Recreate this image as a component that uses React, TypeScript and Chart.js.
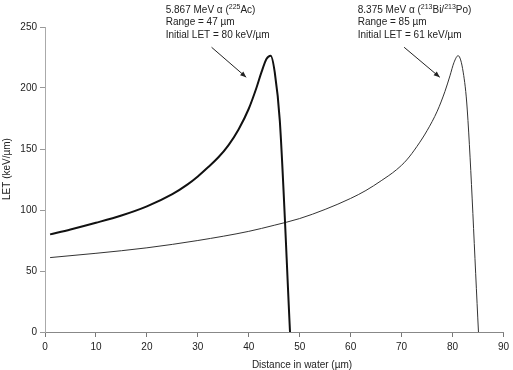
import { useEffect, useRef } from "react";
import { Chart, registerables } from "chart.js";

Chart.register(...registerables);

// ---- data ----
const acDistance = [1, 5, 10, 15, 20, 25, 28, 30, 32, 34, 36, 38, 40, 41.5, 42.5, 43.5, 44.3, 45.1, 46.1, 48.1];
const acLET = [80, 84, 89.5, 95.5, 103, 113, 121, 127.5, 135, 143, 153, 166, 183, 200, 213, 224, 226.5, 213, 173, 0];

const biDistance = [1, 10, 20, 30, 40, 45, 50, 55, 60, 63, 66, 69, 71, 73, 75, 77, 78.5, 79.5, 80.3, 81.1, 82.1, 82.9, 85.1];
const biLET = [61, 64.5, 69, 75, 82.5, 87.5, 93, 100.5, 109.5, 116, 124, 133, 141, 152, 165, 181, 197, 210, 221, 226.5, 213, 182, 0];

const xTickValues = [0, 10, 20, 30, 40, 50, 60, 70, 80, 90];
const yTickValues = [0, 50, 100, 150, 200, 250];

const xTitle = "Distance in water (µm)";
const yTitle = "LET (keV/µm)";

// notes: '^' toggles superscript
const acNote = ["5.867 MeV α (^225^Ac)", "Range = 47 µm", "Initial LET = 80 keV/µm"];
const biNote = ["8.375 MeV α (^213^Bi/^213^Po)", "Range = 85 µm", "Initial LET = 61 keV/µm"];
// note anchor (data coords) and arrow start/end (data coords)
const acNoteAt = [23.7, 264];
const biNoteAt = [61.4, 264];
const acArrow = [32.7, 233.4, 39.5, 208.8];
const biArrow = [70.5, 233.4, 77.5, 208.8];

const FONT = "'Liberation Sans', Arial, sans-serif";

function drawRich(ctx: CanvasRenderingContext2D, text: string, x: number, y: number) {
  const parts = text.split("^");
  let cx = x;
  parts.forEach((p, i) => {
    if (!p) return;
    const sup = i % 2 === 1;
    ctx.font = sup ? `7px ${FONT}` : `10px ${FONT}`;
    ctx.fillText(p, cx, sup ? y - 3 : y);
    cx += ctx.measureText(p).width;
  });
}

function drawArrow(ctx: CanvasRenderingContext2D, x1: number, y1: number, x2: number, y2: number) {
  ctx.beginPath();
  ctx.moveTo(x1, y1);
  ctx.lineTo(x2, y2);
  ctx.stroke();
  const ang = Math.atan2(y2 - y1, x2 - x1);
  const len = 6;
  const w = 2.5;
  ctx.beginPath();
  ctx.moveTo(x2, y2);
  ctx.lineTo(x2 - len * Math.cos(ang) + w * Math.sin(ang), y2 - len * Math.sin(ang) - w * Math.cos(ang));
  ctx.lineTo(x2 - len * Math.cos(ang) - w * Math.sin(ang), y2 - len * Math.sin(ang) + w * Math.cos(ang));
  ctx.closePath();
  ctx.fill();
}

const notesPlugin = {
  id: "notes",
  afterDraw(chart: any) {
    const ctx = chart.ctx as CanvasRenderingContext2D;
    const xs = chart.scales.x;
    const ys = chart.scales.y;
    ctx.save();
    ctx.fillStyle = "#222";
    ctx.strokeStyle = "#222";
    ctx.lineWidth = 1;
    ctx.textBaseline = "middle";
    ctx.textAlign = "left";
    const block = (lines: string[], at: number[]) => {
      const x = xs.getPixelForValue(at[0]);
      const y = ys.getPixelForValue(at[1]);
      lines.forEach((l, i) => drawRich(ctx, l, x, y + i * 12.5));
    };
    block(acNote, acNoteAt);
    block(biNote, biNoteAt);
    const arr = (a: number[]) =>
      drawArrow(ctx, xs.getPixelForValue(a[0]), ys.getPixelForValue(a[1]), xs.getPixelForValue(a[2]), ys.getPixelForValue(a[3]));
    arr(acArrow);
    arr(biArrow);

    // axis titles
    ctx.font = `10px ${FONT}`;
    ctx.textAlign = "center";
    ctx.fillText(xTitle, 302, 365);
    ctx.translate(7, 169);
    ctx.rotate(-Math.PI / 2);
    ctx.fillText(yTitle, 0, 0);
    ctx.restore();
  },
};

export default function App() {
  const ref = useRef<HTMLCanvasElement | null>(null);
  useEffect(() => {
    if (!ref.current) return;
    const chart = new Chart(ref.current, {
      type: "line",
      data: {
        datasets: [
          {
            label: "225Ac",
            data: acDistance.map((x, i) => ({ x, y: acLET[i] })),
            borderColor: "#111",
            borderWidth: 2,
            pointRadius: 0,
            cubicInterpolationMode: "monotone",
            fill: false,
          },
          {
            label: "213Bi/213Po",
            data: biDistance.map((x, i) => ({ x, y: biLET[i] })),
            borderColor: "#333",
            borderWidth: 1,
            pointRadius: 0,
            cubicInterpolationMode: "monotone",
            fill: false,
          },
        ],
      },
      options: {
        animation: false,
        responsive: false,
        devicePixelRatio: 1,
        layout: { padding: { left: 0, top: 27, right: 6, bottom: 0 } },
        plugins: { legend: { display: false }, tooltip: { enabled: false } },
        scales: {
          x: {
            type: "linear",
            min: 0,
            max: 90,
            afterBuildTicks: (s: any) => {
              s.ticks = xTickValues.map((v) => ({ value: v }));
            },
            afterFit: (s: any) => {
              s.height = 38;
            },
            ticks: { color: "#222", font: { family: FONT, size: 10 }, padding: 4, maxRotation: 0 },
            grid: { drawOnChartArea: false, drawTicks: true, tickLength: 5, color: "#777" },
            border: { color: "#888", dash: [2, 1] },
          },
          y: {
            type: "linear",
            min: 0,
            max: 250,
            afterBuildTicks: (s: any) => {
              s.ticks = yTickValues.map((v) => ({ value: v }));
            },
            afterFit: (s: any) => {
              s.width = 45;
            },
            ticks: { color: "#222", font: { family: FONT, size: 10 }, padding: 3 },
            grid: { drawOnChartArea: false, drawTicks: true, tickLength: 5, color: "#999" },
            border: { color: "#aaa" },
          },
        },
      },
      plugins: [notesPlugin],
    } as any);
    return () => chart.destroy();
  }, []);
  return (
    <div style={{ position: "absolute", left: 0, top: 0, width: 513, height: 370, background: "#fff" }}>
      <canvas ref={ref} width={513} height={370} style={{ display: "block", width: 513, height: 370 }} />
    </div>
  );
}
